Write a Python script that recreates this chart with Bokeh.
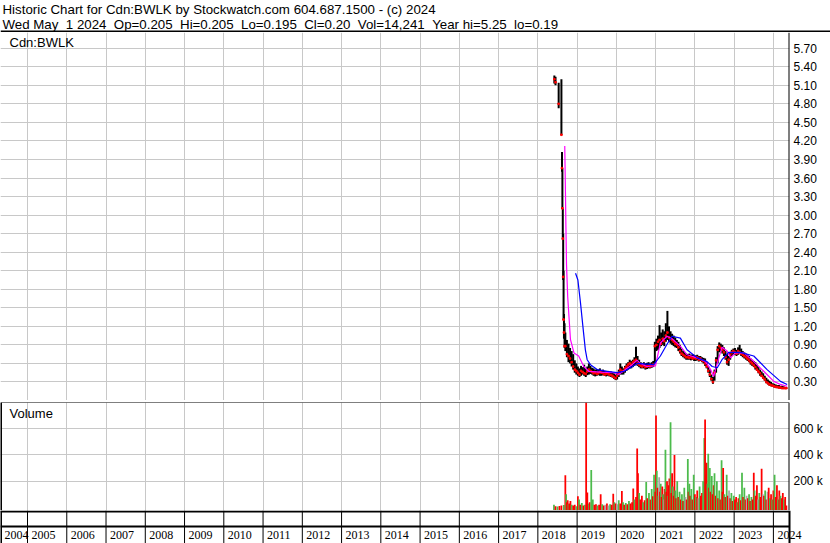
from bokeh.plotting import figure
from bokeh.layouts import column, row
from bokeh.models import (Range1d, FixedTicker, Grid, Label, LabelSet, Span,
                          PrintfTickFormatter, ColumnDataSource)
from bokeh.embed import file_html
from bokeh.resources import INLINE

FONT = "Liberation Sans"
HEADER_1 = "Historic Chart for Cdn:BWLK by Stockwatch.com 604.687.1500 - (c) 2024"
HEADER_2 = "Wed May  1 2024  Op=0.205  Hi=0.205  Lo=0.195  Cl=0.20  Vol=14,241  Year hi=5.25  lo=0.19"
SYMBOL = "Cdn:BWLK"
VOL_TITLE = "Volume"

YEARS = list(range(2004, 2025))
PRICE_TICKS = [0.30, 0.60, 0.90, 1.20, 1.50, 1.80, 2.10, 2.40, 2.70, 3.00,
               3.30, 3.60, 3.90, 4.20, 4.50, 4.80, 5.10, 5.40, 5.70]
VOL_TICKS = [200000, 400000, 600000]
VOL_TICK_LABELS = ["200 k", "400 k", "600 k"]

# price bars (decimal year, high, low, close)
PX_DATES = [2018.42, 2018.45, 2018.53, 2018.60, 2018.615, 2018.625, 2018.635, 2018.645, 2018.655, 2018.665, 2018.68,
            2018.70, 2018.74, 2018.78, 2018.82, 2018.86, 2018.90, 2018.94, 2018.98,
            2019.02, 2019.06, 2019.10, 2019.14, 2019.18, 2019.22, 2019.26, 2019.30, 2019.34, 2019.38,
            2019.42, 2019.46, 2019.50, 2019.54, 2019.58, 2019.62, 2019.66, 2019.70, 2019.74, 2019.78,
            2019.82, 2019.86, 2019.90, 2019.94, 2019.98,
            2020.02, 2020.06, 2020.10, 2020.14, 2020.18, 2020.22, 2020.26, 2020.30, 2020.34, 2020.38,
            2020.42, 2020.46, 2020.50, 2020.54, 2020.58, 2020.62, 2020.66, 2020.70, 2020.74, 2020.78,
            2020.82, 2020.86, 2020.90, 2020.94, 2020.98,
            2021.02, 2021.06, 2021.10, 2021.14, 2021.18, 2021.22, 2021.26, 2021.30, 2021.34, 2021.38,
            2021.42, 2021.46, 2021.50, 2021.54, 2021.58, 2021.62, 2021.66, 2021.70, 2021.74, 2021.78,
            2021.82, 2021.86, 2021.90, 2021.94, 2021.98,
            2022.02, 2022.06, 2022.10, 2022.14, 2022.18, 2022.22, 2022.26, 2022.30, 2022.34, 2022.38,
            2022.42, 2022.46, 2022.50, 2022.54, 2022.58, 2022.62, 2022.66, 2022.70, 2022.74, 2022.78,
            2022.82, 2022.86, 2022.90, 2022.94, 2022.98,
            2023.02, 2023.06, 2023.10, 2023.14, 2023.18, 2023.22, 2023.26, 2023.30, 2023.34, 2023.38,
            2023.42, 2023.46, 2023.50, 2023.54, 2023.58, 2023.62, 2023.66, 2023.70, 2023.74, 2023.78,
            2023.82, 2023.86, 2023.90, 2023.94, 2023.98,
            2024.02, 2024.06, 2024.10, 2024.14, 2024.18, 2024.22, 2024.26, 2024.30, 2024.33]
PX_HIGH = [5.26, 5.24, 5.14, 5.20, 4.02, 3.76, 3.10, 2.70, 2.10, 1.40, 1.25,
           1.10, 0.98, 0.92, 0.85, 0.80, 0.75, 0.65, 0.60,
           0.55, 0.52, 0.56, 0.54, 0.58, 0.52, 0.55, 0.60, 0.56, 0.53,
           0.52, 0.50, 0.51, 0.50, 0.52, 0.49, 0.50, 0.48, 0.47, 0.48,
           0.46, 0.47, 0.46, 0.44, 0.42,
           0.45, 0.50, 0.60, 0.55, 0.52, 0.56, 0.60, 0.62, 0.66, 0.64,
           0.66, 0.70, 0.87, 0.72, 0.66, 0.62, 0.60, 0.62, 0.60, 0.61,
           0.62, 0.60, 0.62, 0.64, 0.95,
           1.00, 1.05, 1.22, 1.10, 1.15, 1.12, 1.25, 1.45, 1.20, 1.12,
           1.08, 1.05, 1.02, 0.98, 0.95, 0.90, 0.84, 0.80, 0.78, 0.76,
           0.75, 0.76, 0.74, 0.75, 0.74,
           0.73, 0.74, 0.72, 0.72, 0.70, 0.69, 0.68, 0.62, 0.56, 0.50,
           0.42, 0.38, 0.50, 0.70, 0.88, 0.94, 0.92, 0.90, 0.86, 0.80,
           0.75, 0.72, 0.78, 0.82, 0.84,
           0.85, 0.82, 0.86, 0.90, 0.84, 0.80, 0.78, 0.76, 0.74, 0.72,
           0.68, 0.66, 0.64, 0.62, 0.58, 0.54, 0.50, 0.47, 0.44, 0.40,
           0.37, 0.34, 0.32, 0.30, 0.28,
           0.27, 0.26, 0.25, 0.25, 0.24, 0.24, 0.23, 0.22, 0.205]
PX_LOW = [5.13, 5.10, 4.73, 4.30, 3.70, 3.10, 2.60, 1.95, 1.30, 1.00, 0.85,
          0.80, 0.70, 0.62, 0.60, 0.55, 0.50, 0.45, 0.42,
          0.40, 0.38, 0.40, 0.42, 0.40, 0.38, 0.41, 0.42, 0.43, 0.42,
          0.40, 0.39, 0.40, 0.41, 0.40, 0.40, 0.41, 0.40, 0.39, 0.40,
          0.39, 0.38, 0.37, 0.35, 0.33,
          0.34, 0.38, 0.42, 0.42, 0.42, 0.45, 0.48, 0.50, 0.52, 0.52,
          0.54, 0.56, 0.58, 0.56, 0.54, 0.52, 0.52, 0.52, 0.50, 0.51,
          0.52, 0.52, 0.53, 0.54, 0.60,
          0.80, 0.82, 0.85, 0.88, 0.90, 0.88, 0.95, 0.98, 0.95, 0.92,
          0.90, 0.88, 0.86, 0.85, 0.80, 0.76, 0.72, 0.70, 0.68, 0.66,
          0.66, 0.66, 0.65, 0.66, 0.64,
          0.64, 0.65, 0.63, 0.64, 0.62, 0.60, 0.56, 0.52, 0.45, 0.38,
          0.32, 0.27, 0.32, 0.45, 0.60, 0.78, 0.80, 0.76, 0.72, 0.66,
          0.58, 0.56, 0.66, 0.72, 0.74,
          0.74, 0.72, 0.74, 0.75, 0.72, 0.70, 0.68, 0.66, 0.64, 0.62,
          0.58, 0.56, 0.54, 0.50, 0.48, 0.44, 0.40, 0.38, 0.35, 0.32,
          0.28, 0.26, 0.24, 0.23, 0.22,
          0.21, 0.21, 0.20, 0.20, 0.19, 0.19, 0.19, 0.19, 0.195]
PX_CLOSE = [5.20, 5.15, 4.80, 4.30, 3.76, 3.11, 2.62, 2.00, 1.31, 1.10, 0.88,
            0.88, 0.75, 0.72, 0.68, 0.62, 0.55, 0.50, 0.48,
            0.45, 0.42, 0.48, 0.46, 0.44, 0.43, 0.47, 0.50, 0.48, 0.46,
            0.44, 0.45, 0.43, 0.44, 0.46, 0.45, 0.44, 0.42, 0.43, 0.44,
            0.42, 0.41, 0.40, 0.38, 0.36,
            0.40, 0.45, 0.50, 0.47, 0.48, 0.52, 0.55, 0.58, 0.60, 0.58,
            0.62, 0.64, 0.66, 0.60, 0.58, 0.56, 0.55, 0.57, 0.54, 0.55,
            0.56, 0.55, 0.57, 0.58, 0.88,
            0.90, 0.95, 0.98, 0.92, 1.00, 0.96, 1.05, 1.10, 1.02, 1.00,
            0.98, 0.95, 0.92, 0.90, 0.86, 0.80, 0.76, 0.74, 0.72, 0.70,
            0.70, 0.69, 0.70, 0.68, 0.69,
            0.68, 0.70, 0.66, 0.68, 0.65, 0.64, 0.60, 0.55, 0.48, 0.42,
            0.35, 0.30, 0.45, 0.65, 0.82, 0.88, 0.85, 0.82, 0.78, 0.70,
            0.62, 0.66, 0.74, 0.78, 0.80,
            0.78, 0.76, 0.80, 0.78, 0.76, 0.74, 0.72, 0.70, 0.68, 0.65,
            0.62, 0.60, 0.57, 0.54, 0.50, 0.47, 0.44, 0.40, 0.37, 0.34,
            0.30, 0.28, 0.26, 0.25, 0.24,
            0.23, 0.22, 0.22, 0.21, 0.21, 0.20, 0.20, 0.20, 0.20]

# short moving average (magenta)
MA_S_DATES = [2018.685, 2018.70, 2018.715, 2018.73, 2018.76, 2018.83, 2018.92, 2019.04, 2019.17, 2019.30,
              2019.60, 2019.935, 2020.06, 2020.23, 2020.40, 2020.53, 2020.61, 2020.78, 2020.996, 2021.12,
              2021.29, 2021.42, 2021.63, 2021.80, 2022.06, 2022.27, 2022.40, 2022.48, 2022.57, 2022.69,
              2022.82, 2022.91, 2023.03, 2023.25, 2023.50, 2023.76, 2024.01, 2024.18, 2024.35]
MA_S_VALS = [4.12, 3.50, 2.80, 2.20, 1.68, 0.99, 0.77, 0.72, 0.55, 0.47,
             0.46, 0.45, 0.42, 0.50, 0.58, 0.65, 0.60, 0.55, 0.56, 0.93,
             1.04, 1.00, 0.88, 0.74, 0.69, 0.63, 0.50, 0.39, 0.61, 0.86,
             0.80, 0.69, 0.77, 0.77, 0.63, 0.47, 0.31, 0.26, 0.23]

# long moving average (blue)
MA_L_DATES = [2018.96, 2019.02, 2019.086, 2019.155, 2019.21, 2019.256, 2019.34, 2019.51, 2019.765, 2020.02,
              2020.19, 2020.36, 2020.53, 2020.95, 2021.12, 2021.29, 2021.42, 2021.63, 2021.80, 2022.06,
              2022.31, 2022.44, 2022.57, 2022.69, 2022.86, 2023.16, 2023.50, 2023.84, 2024.18, 2024.35]
MA_L_VALS = [2.06, 1.95, 1.58, 1.15, 0.82, 0.66, 0.58, 0.50, 0.47, 0.45,
             0.47, 0.53, 0.60, 0.58, 0.72, 0.91, 1.04, 1.01, 0.82, 0.69,
             0.63, 0.55, 0.53, 0.66, 0.78, 0.78, 0.72, 0.50, 0.31, 0.26]

# volume bars (decimal year, thousands of shares, direction r=down g=up n=unchanged)
VOL_DATES = [2018.41, 2018.45, 2018.50, 2018.55, 2018.60, 2018.66, 2018.70, 2018.72, 2018.74, 2018.76,
             2018.78, 2018.80, 2018.83, 2018.86, 2018.90, 2018.94, 2018.98, 2019.02, 2019.05, 2019.08,
             2019.12, 2019.16, 2019.20, 2019.23, 2019.26, 2019.30, 2019.32, 2019.36, 2019.40, 2019.44,
             2019.48, 2019.52, 2019.56, 2019.60, 2019.64, 2019.68, 2019.72, 2019.76, 2019.80, 2019.84,
             2019.88, 2019.92, 2019.95, 2019.98, 2020.02, 2020.06, 2020.10, 2020.14, 2020.17, 2020.20,
             2020.24, 2020.28, 2020.32, 2020.36, 2020.40, 2020.43, 2020.46, 2020.50, 2020.53, 2020.55,
             2020.58, 2020.61, 2020.65, 2020.68, 2020.72, 2020.76, 2020.79, 2020.83, 2020.87, 2020.90,
             2020.93, 2020.96, 2020.99, 2021.01, 2021.03, 2021.05, 2021.07, 2021.09, 2021.11, 2021.13,
             2021.15, 2021.17, 2021.19, 2021.21, 2021.23, 2021.25, 2021.27, 2021.29, 2021.31, 2021.33,
             2021.35, 2021.38, 2021.40, 2021.42, 2021.44, 2021.46, 2021.48, 2021.50, 2021.52, 2021.55,
             2021.58, 2021.61, 2021.64, 2021.67, 2021.70, 2021.73, 2021.76, 2021.79, 2021.82, 2021.84,
             2021.86, 2021.88, 2021.91, 2021.94, 2021.97, 2022.00, 2022.03, 2022.06, 2022.09, 2022.12,
             2022.15, 2022.18, 2022.21, 2022.24, 2022.26, 2022.28, 2022.30, 2022.32, 2022.34, 2022.36,
             2022.38, 2022.40, 2022.43, 2022.45, 2022.48, 2022.50, 2022.53, 2022.56, 2022.59, 2022.62,
             2022.65, 2022.68, 2022.70, 2022.72, 2022.75, 2022.78, 2022.81, 2022.84, 2022.87, 2022.90,
             2022.93, 2022.96, 2022.99, 2023.02, 2023.05, 2023.08, 2023.11, 2023.14, 2023.17, 2023.20,
             2023.23, 2023.26, 2023.29, 2023.32, 2023.35, 2023.38, 2023.41, 2023.44, 2023.47, 2023.50,
             2023.52, 2023.55, 2023.58, 2023.61, 2023.64, 2023.67, 2023.70, 2023.73, 2023.76, 2023.79,
             2023.82, 2023.85, 2023.88, 2023.91, 2023.94, 2023.97, 2024.00, 2024.03, 2024.06, 2024.09,
             2024.12, 2024.15, 2024.18, 2024.21, 2024.24, 2024.27, 2024.30, 2024.33]
VOL_K = [20, 10, 8, 12, 15, 18, 245, 100, 40, 55,
         25, 30, 50, 20, 15, 20, 10, 85, 60, 20,
         35, 15, 20, 800, 115, 30, 40, 285, 60, 20,
         25, 15, 20, 100, 25, 15, 20, 30, 15, 25,
         20, 105, 40, 30, 25, 55, 30, 125, 40, 20,
         35, 25, 50, 30, 40, 145, 60, 80, 450, 260,
         110, 60, 90, 40, 55, 195, 70, 110, 60, 140,
         85, 250, 120, 700, 280, 150, 90, 230, 120, 180,
         80, 160, 100, 60, 140, 440, 120, 200, 90, 170,
         220, 650, 110, 260, 160, 90, 400, 130, 70, 200,
         80, 120, 60, 100, 50, 150, 80, 60, 370, 120,
         180, 90, 140, 60, 250, 100, 80, 130, 70, 160,
         90, 110, 200, 530, 670, 250, 340, 180, 410, 150,
         300, 120, 240, 100, 170, 260, 90, 200, 70, 130,
         60, 360, 120, 300, 100, 80, 250, 90, 130, 70,
         110, 50, 90, 60, 80, 40, 70, 100, 55, 265,
         80, 150, 60, 90, 70, 100, 50, 80, 60, 265,
         130, 90, 170, 60, 110, 80, 295, 100, 90, 130,
         60, 120, 150, 70, 100, 60, 130, 250, 80, 170,
         60, 130, 90, 70, 110, 60, 80, 15]
VOL_DIR = ["g", "r", "g", "r", "r", "g", "r", "g", "r", "r",
           "g", "r", "r", "g", "r", "r", "g", "r", "g", "r",
           "g", "r", "g", "r", "r", "g", "r", "g", "g", "r",
           "r", "g", "r", "r", "g", "r", "n", "r", "n", "g",
           "r", "r", "g", "r", "n", "g", "r", "r", "g", "r",
           "g", "r", "g", "r", "r", "r", "g", "r", "r", "r",
           "g", "r", "r", "g", "r", "g", "r", "g", "r", "g",
           "r", "g", "r", "r", "g", "r", "g", "n", "r", "g",
           "r", "r", "g", "n", "r", "g", "r", "r", "g", "r",
           "r", "g", "r", "r", "g", "r", "r", "g", "r", "g",
           "r", "g", "r", "g", "r", "g", "n", "r", "g", "r",
           "g", "r", "g", "r", "g", "r", "g", "r", "n", "g",
           "r", "r", "g", "g", "r", "r", "r", "g", "g", "r",
           "g", "r", "g", "r", "r", "g", "r", "g", "r", "g",
           "r", "g", "r", "r", "g", "r", "g", "r", "n", "r",
           "g", "r", "g", "r", "r", "g", "r", "g", "r", "g",
           "r", "g", "r", "n", "r", "g", "r", "g", "r", "r",
           "g", "r", "r", "n", "g", "r", "r", "n", "r", "g",
           "r", "n", "r", "g", "r", "g", "r", "g", "r", "r",
           "g", "r", "g", "r", "r", "g", "r", "r"]
DIR_COLORS = {"r": "#ff0000", "g": "#4cbb4c", "n": "#a8a8a8"}

# ---------------- layout constants ----------------
W = 830
AXIS_W = 41
FRAME_W = W - AXIS_W
X0, X1 = 2004.312, 2024.41
XE = X0 + (X1 - X0) * W / FRAME_W   # same scale, extended under the right label area
P_LO, P_HI = 0.0, 5.955
VOL_LO, VOL_HI = -23000, 800000
GRID = "#c8c8c8"

xr = Range1d(X0, X1)


def bare(fig, right):
    fig.min_border_left = 0
    fig.min_border_top = 0
    fig.min_border_bottom = 0
    fig.min_border_right = right
    fig.background_fill_color = "white"
    fig.border_fill_color = "white"
    fig.outline_line_color = None


def right_axis(fig, ticks):
    ax_ = fig.yaxis[0]
    ax_.ticker = FixedTicker(ticks=ticks)
    ax_.axis_line_color = None
    ax_.major_tick_line_color = None
    ax_.minor_tick_line_color = None
    ax_.major_tick_out = 0
    ax_.major_tick_in = 0
    ax_.major_label_standoff = 4
    ax_.major_label_text_font = FONT
    ax_.major_label_text_font_size = "12px"
    ax_.major_label_text_color = "black"
    fig.ygrid.grid_line_color = GRID
    fig.add_layout(Grid(dimension=0, ticker=FixedTicker(ticks=YEARS), grid_line_color=GRID))


# ---------------- header ----------------
hdr = figure(width=W, height=32, x_range=Range1d(0, W), y_range=Range1d(0, 32),
             output_backend="svg", toolbar_location=None,
             x_axis_location=None, y_axis_location=None)
bare(hdr, 0)
hdr.xgrid.visible = False
hdr.ygrid.visible = False
h2 = HEADER_2.replace("  ", " \u00a0")
hdr.add_layout(Label(x=2, y=23, text=HEADER_1, text_font=FONT, text_font_size="13.3px",
                     text_baseline="alphabetic", text_color="black"))
hdr.add_layout(Label(x=2, y=8.5, text=h2, text_font=FONT, text_font_size="13.3px",
                     text_baseline="alphabetic", text_color="black"))
hdr.add_layout(Span(location=1, dimension="width", line_color="black", line_width=2))

# ---------------- price panel ----------------
p = figure(width=W, height=368, x_range=xr, y_range=Range1d(P_LO, P_HI),
           output_backend="svg", toolbar_location=None,
           x_axis_location=None, y_axis_location="right")
bare(p, AXIS_W)
right_axis(p, PRICE_TICKS)
p.yaxis.formatter = PrintfTickFormatter(format="%.2f")
p.add_layout(Span(location=X1, dimension="height", line_color="black", line_width=2))
p.add_layout(Span(location=P_LO, dimension="width", line_color="black", line_width=1.2))
p.add_layout(Label(x=X0, y=P_HI, x_offset=9, y_offset=-9.5, text=SYMBOL, text_font=FONT,
                   text_font_size="13px", text_baseline="alphabetic", text_color="black"))

p.segment(x0=PX_DATES, y0=PX_LOW, x1=PX_DATES, y1=PX_HIGH, line_color="black", line_width=2)
p.scatter(x=PX_DATES, y=PX_CLOSE, marker="square", size=1.6, line_color="#ff0000",
          fill_color="#ff0000")
p.line(x=MA_S_DATES, y=MA_S_VALS, line_color="#ff00ff", line_width=1.2)
p.line(x=MA_L_DATES, y=MA_L_VALS, line_color="#0000ff", line_width=1.2)

# ---------------- volume panel ----------------
v = figure(width=W, height=110, x_range=xr, y_range=Range1d(VOL_LO, VOL_HI),
           output_backend="svg", toolbar_location=None,
           x_axis_location=None, y_axis_location="right")
bare(v, AXIS_W)
v.min_border_top = 2
right_axis(v, VOL_TICKS)
v.yaxis.major_label_overrides = dict(zip(VOL_TICKS, VOL_TICK_LABELS))
v.add_layout(Span(location=X1, dimension="height", line_color="black", line_width=2))
v.add_layout(Span(location=X0, dimension="height", line_color="black", line_width=3))
v.add_layout(Span(location=VOL_HI, dimension="width", line_color="black", line_width=1.2))
v.add_layout(Label(x=X0, y=VOL_HI, x_offset=9, y_offset=-10.5, text=VOL_TITLE, text_font=FONT,
                   text_font_size="13px", text_baseline="alphabetic", text_color="black"))
v.vbar(x=VOL_DATES, top=[k * 1000 for k in VOL_K], bottom=VOL_LO, width=0.045,
       fill_color=[DIR_COLORS[d] for d in VOL_DIR], line_color=None)

# ---------------- year boxes ----------------
ax = figure(width=W, height=33, x_range=Range1d(X0, XE), y_range=Range1d(0, 33),
            output_backend="svg", toolbar_location=None,
            x_axis_location=None, y_axis_location=None)
bare(ax, 0)
ax.xgrid.visible = False
ax.ygrid.visible = False
ax.segment(x0=YEARS, y0=0, x1=YEARS, y1=33, line_color="black", line_width=1)
ax.segment(x0=[X0, X0], y0=[32, 17], x1=[X1, X1], y1=[32, 17], line_color="black", line_width=2)
ax.add_layout(Span(location=X1, dimension="height", line_color="black", line_width=2))
ax.add_layout(Span(location=X0, dimension="height", line_color="black", line_width=3))
lab_src = ColumnDataSource(data=dict(x=[max(y, X0) for y in YEARS], y=[4.3] * len(YEARS),
                                     text=[str(y) for y in YEARS]))
ax.add_layout(LabelSet(x="x", y="y", text="text", source=lab_src, x_offset=4,
                       text_font=FONT, text_font_size="12px", text_baseline="alphabetic",
                       text_align="left", text_color="black"))

layout = column(row(hdr), p, v, row(ax), spacing=0)
open("out.html", "w").write(file_html(layout, INLINE))
